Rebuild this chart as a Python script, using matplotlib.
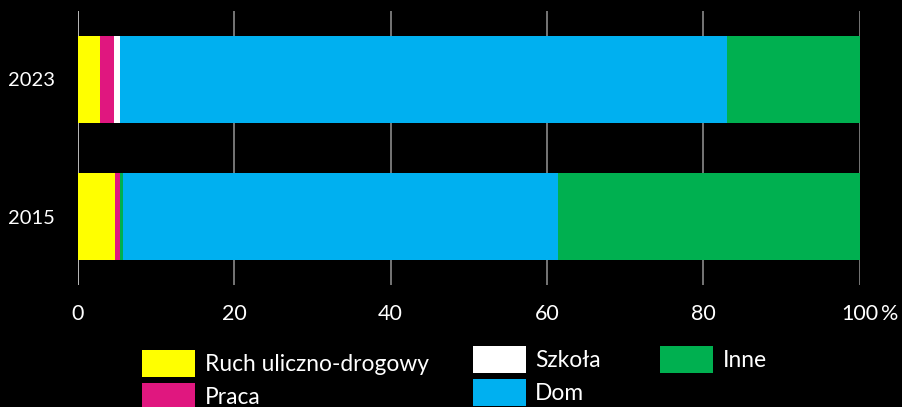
import matplotlib
matplotlib.use("Agg")
import matplotlib.pyplot as plt
from matplotlib.patches import Rectangle
import numpy as np

plt.rcParams['font.family'] = ['Lato', 'DejaVu Sans']

years = ["2015", "2023"]
series_labels = ["Ruch uliczno-drogowy", "Praca", "Szkoła", "", "Dom", "Inne"]
series_colors = ["#FFFF00", "#E0177F", "#FFFFFF", "#00B050", "#00B0F0", "#00B050"]
ruch = [4.77, 2.85]
praca = [0.63, 1.75]
szkola = [0.0, 0.8]
inne_sliver = [0.43, 0.0]
dom = [55.63, 77.67]
inne = [38.54, 16.93]
series_values = [ruch, praca, szkola, inne_sliver, dom, inne]
xticks = [0, 20, 40, 60, 80, 100]
xtick_labels = ["0", "20", "40", "60", "80", "100"]

W, H = 902, 407
fig = plt.figure(figsize=(W / 100, H / 100), dpi=100, facecolor="black")
ax = fig.add_axes([77.7 / W, (H - 285) / H, 782 / W, 274 / H])
ax.set_facecolor("black")

y = np.arange(len(years))
left = np.zeros(len(years))
for vals, col in zip(series_values, series_colors):
    v = np.array(vals)
    ax.barh(y, v, left=left, height=0.63, color=col, edgecolor="none", zorder=3)
    left += v

ax.set_xlim(0, 100)
ax.set_ylim(-0.5, 1.5)
ax.set_yticks(y)
ax.set_yticklabels(years, color="white", fontsize=14.5)
ax.set_xticks(xticks)
ax.set_xticklabels(xtick_labels, color="white", fontsize=15.5)
ax.tick_params(axis="y", length=0, pad=16.5)
ax.tick_params(axis="x", length=0, pad=13.5)
for s in ax.spines.values():
    s.set_visible(False)
for xt in xticks:
    ax.axvline(xt, color="#d9d9d9" if xt == 0 else "#8a8a8a", lw=1.2, zorder=1)

ax.annotate("%", xy=(100, 0), xycoords=("data", "axes fraction"),
            xytext=(15, -13.5), textcoords="offset points", ha="left", va="top",
            color="white", fontsize=15.5)

# legend (manual layout)
def px(x, yy):
    return x / W, 1 - yy / H

legend_items = [
    (0, 142, 350, 205),
    (1, 142, 383, 205),
    (2, 473, 346, 535),
    (4, 473, 379, 535),
    (5, 660, 346, 723),
]
for idx, x0, y0, tx in legend_items:
    sw, sh = 53, 27
    fx, fy = px(x0, y0 + sh)
    fig.add_artist(Rectangle((fx, fy), sw / W, sh / H, transform=fig.transFigure,
                             facecolor=series_colors[idx], edgecolor="none"))
    tx_f, ty_f = px(tx, y0 + sh / 2 + 1)
    fig.text(tx_f, ty_f, series_labels[idx], color="white", fontsize=16.4,
             ha="left", va="center")

fig.savefig("out.png", dpi=100, facecolor="black")
